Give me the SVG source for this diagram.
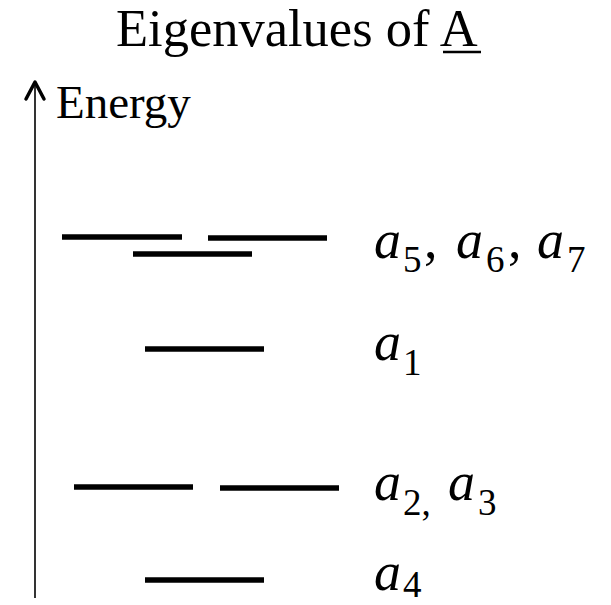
<svg xmlns="http://www.w3.org/2000/svg" width="611" height="605" viewBox="0 0 611 605">
<defs>
<style type="text/css">
.lvl{stroke:#000;stroke-width:5.5;stroke-linecap:butt}
.t{font-family:'Liberation Serif','Times New Roman','DejaVu Serif',serif;fill:#000}
.m{font-style:italic;font-size:54px}
.s{font-style:normal;font-size:37px}
.c{font-style:normal;font-size:54px}
</style>
</defs>
<rect width="611" height="605" fill="#fff"/>
<g id="title">
<text class="t" x="116" y="45.5" style="font-size:52.5px">Eigenvalues of A</text>
<line x1="443" y1="52" x2="481" y2="52" stroke="#000" stroke-width="2.7"/>
</g>
<g id="connectors">
<line x1="35" y1="598" x2="35" y2="82" stroke="#000" stroke-width="1.6"/>
<polyline points="26,99 35,82 44,99" fill="none" stroke="#000" stroke-width="3.5" stroke-linecap="round" stroke-linejoin="round"/>
</g>
<g id="energy-label">
<text class="t" x="56" y="118" style="font-size:47px">Energy</text>
</g>
<g id="level-a5a6a7">
<line class="lvl" x1="62" y1="237" x2="182" y2="237"/>
<line class="lvl" x1="208" y1="238" x2="327" y2="238"/>
<line class="lvl" x1="133" y1="254" x2="252" y2="254"/>
<text class="t"><tspan class="m" x="374" y="258">a</tspan><tspan class="s" x="403" y="272">5</tspan><tspan class="c" x="424" y="258">,</tspan><tspan class="m" x="456" y="258">a</tspan><tspan class="s" x="486" y="272">6</tspan><tspan class="c" x="508" y="258">,</tspan><tspan class="m" x="537" y="258">a</tspan><tspan class="s" x="567" y="272">7</tspan></text>
</g>
<g id="level-a1">
<line class="lvl" x1="145" y1="349" x2="264" y2="349"/>
<text class="t"><tspan class="m" x="374" y="360">a</tspan><tspan class="s" x="403" y="375">1</tspan></text>
</g>
<g id="level-a2a3">
<line class="lvl" x1="74" y1="487" x2="193" y2="487"/>
<line class="lvl" x1="220" y1="488" x2="339" y2="488"/>
<text class="t"><tspan class="m" x="374" y="500">a</tspan><tspan class="s" x="403" y="515">2,</tspan><tspan class="m" x="448" y="500">a</tspan><tspan class="s" x="478" y="515">3</tspan></text>
</g>
<g id="level-a4">
<line class="lvl" x1="145" y1="580" x2="264" y2="580"/>
<text class="t"><tspan class="m" x="374" y="590">a</tspan><tspan class="s" x="403" y="597">4</tspan></text>
</g>
</svg>
